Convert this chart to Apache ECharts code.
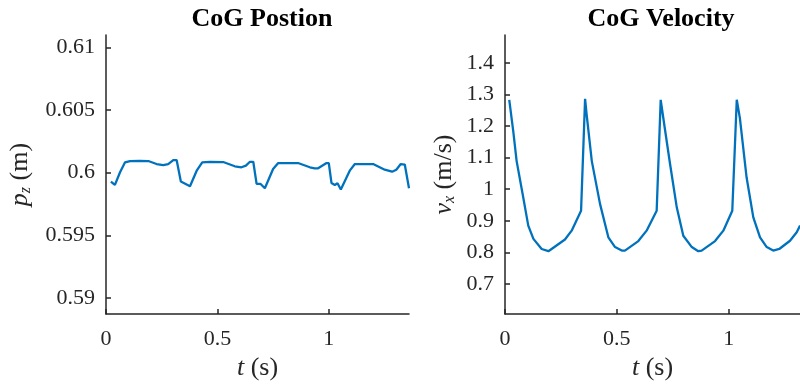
<!DOCTYPE html>
<html>
<head>
<meta charset="utf-8">
<script src="https://cdn.jsdelivr.net/npm/echarts@6/dist/echarts.min.js"></script>
<style>html,body{margin:0;padding:0;background:#fff}#c{width:800px;height:386px}</style>
</head>
<body>
<div id="c"></div>
<script>
// Left panel: CoG position p_z (m) vs t (s)
const pzT = [0.022,0.040,0.063,0.085,0.108,0.150,0.190,0.227,0.257,0.279,0.302,0.317,0.336,0.377,0.407,0.432,0.466,0.526,0.578,0.608,0.628,0.646,0.661,0.676,0.694,0.713,0.750,0.773,0.862,0.915,0.937,0.952,0.990,1.000,1.012,1.027,1.039,1.054,1.094,1.117,1.199,1.251,1.284,1.303,1.323,1.341,1.360];
const pzV = [0.59929,0.59902,0.60003,0.60082,0.60093,0.60095,0.60093,0.60069,0.60061,0.60069,0.60101,0.60101,0.59929,0.59892,0.60016,0.60082,0.60087,0.60085,0.60051,0.60043,0.60056,0.60087,0.60087,0.59910,0.59910,0.59876,0.60029,0.60077,0.60077,0.60043,0.60035,0.60035,0.60077,0.60077,0.59918,0.59902,0.59916,0.59865,0.60016,0.60069,0.60069,0.60024,0.60008,0.60024,0.60069,0.60065,0.59876];
// Right panel: CoG velocity v_x (m/s) vs t (s)
const vxT = [0.019,0.037,0.052,0.079,0.104,0.127,0.164,0.194,0.224,0.268,0.298,0.340,0.358,0.365,0.388,0.425,0.462,0.492,0.522,0.536,0.596,0.633,0.678,0.696,0.712,0.738,0.768,0.797,0.835,0.864,0.879,0.939,0.976,1.016,1.036,1.050,1.080,1.110,1.140,1.170,1.199,1.226,1.274,1.304,1.319];
const vxV = [1.283,1.183,1.089,0.984,0.885,0.843,0.811,0.804,0.819,0.841,0.869,0.932,1.286,1.236,1.089,0.953,0.848,0.817,0.806,0.806,0.836,0.869,0.932,1.283,1.204,1.079,0.942,0.853,0.817,0.804,0.806,0.836,0.869,0.932,1.283,1.225,1.037,0.911,0.848,0.817,0.806,0.811,0.837,0.864,0.885];
// Tick labels
const xTicks = [0, 0.5, 1];
const pzTicks = [0.59, 0.595, 0.6, 0.605, 0.61];
const vxTicks = [0.7, 0.8, 0.9, 1, 1.1, 1.2, 1.3, 1.4];
const titles = ['CoG Postion', 'CoG Velocity'];

const FONT = '"Liberation Serif", "Times New Roman", serif';
const INK = '#262626';
const zip = (a, b) => a.map((v, i) => [v, b[i]]);

function xAxis(idx, max) {
  return {
    type: 'value', gridIndex: idx, min: 0, max: max,
    axisLine: {show: true, lineStyle: {color: INK, width: 1.5}},
    axisTick: {show: true, inside: true, length: 5, customValues: xTicks, lineStyle: {color: INK, width: 1.5}},
    axisLabel: {customValues: xTicks, color: INK, fontFamily: FONT, fontSize: 22, margin: 14},
    splitLine: {show: false},
    name: '{i|t} (s)', nameLocation: 'middle', nameGap: 40,
    nameTextStyle: {color: INK, fontFamily: FONT, fontSize: 26, rich: {i: {fontStyle: 'italic', fontFamily: FONT, fontSize: 26, color: INK}}}
  };
}
function yAxis(idx, min, max, ticks, name, gap) {
  return {
    type: 'value', gridIndex: idx, min: min, max: max,
    axisLine: {show: true, lineStyle: {color: INK, width: 1.5}},
    axisTick: {show: true, inside: true, length: 5, customValues: ticks, lineStyle: {color: INK, width: 1.5}},
    axisLabel: {customValues: ticks, color: INK, fontFamily: FONT, fontSize: 22, margin: 11},
    splitLine: {show: false},
    name: name, nameLocation: 'middle', nameGap: gap,
    nameTextStyle: {color: INK, fontFamily: FONT, fontSize: 26,
      rich: {i: {fontStyle: 'italic', fontFamily: FONT, fontSize: 26, color: INK},
             sub: {fontStyle: 'italic', fontFamily: FONT, fontSize: 16, color: INK, padding: [12, 0, 0, 0]}}}
  };
}

const chart = echarts.init(document.getElementById('c'), null, {renderer: 'canvas'});
chart.setOption({
  animation: false,
  backgroundColor: '#fff',
  title: [
    {text: titles[0], left: 257, top: 1, textAlign: 'center', textStyle: {fontFamily: FONT, fontWeight: 'bold', fontSize: 26, color: '#000'}},
    {text: titles[1], left: 656, top: 1, textAlign: 'center', textStyle: {fontFamily: FONT, fontWeight: 'bold', fontSize: 26, color: '#000'}}
  ],
  grid: [
    {left: 106, top: 35, width: 303, height: 281},
    {left: 505, top: 35, width: 295, height: 281}
  ],
  xAxis: [xAxis(0, 1.36), xAxis(1, 1.3187)],
  yAxis: [
    yAxis(0, 0.5887, 0.611, pzTicks, '{i|p}{sub|z} (m)', 72),
    yAxis(1, 0.605, 1.488, vxTicks, '{i|v}{sub|x} (m/s)', 47)
  ],
  series: [
    {type: 'line', xAxisIndex: 0, yAxisIndex: 0, data: zip(pzT, pzV), showSymbol: false, lineStyle: {color: '#0072BD', width: 2.3}, itemStyle: {color: '#0072BD'}},
    {type: 'line', xAxisIndex: 1, yAxisIndex: 1, data: zip(vxT, vxV), showSymbol: false, lineStyle: {color: '#0072BD', width: 2.3}, itemStyle: {color: '#0072BD'}}
  ]
});
</script>
</body>
</html>
